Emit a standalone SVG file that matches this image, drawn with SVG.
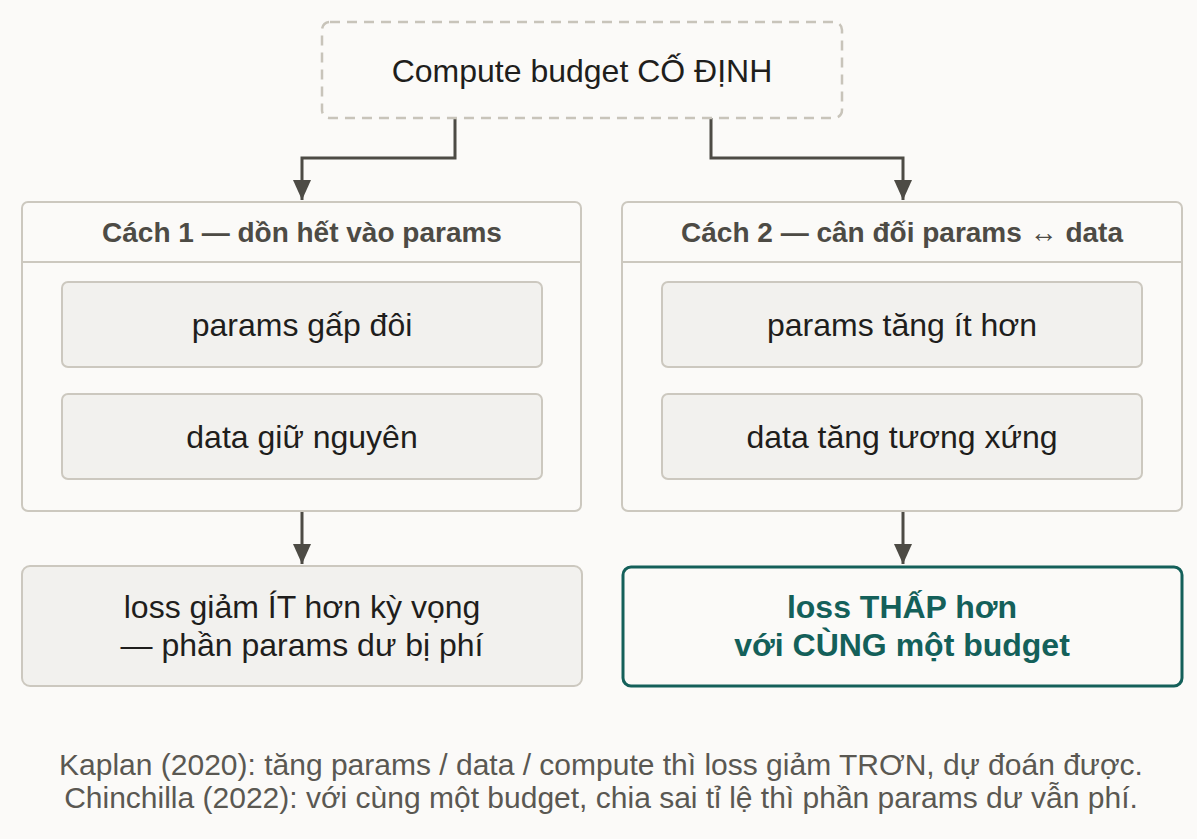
<svg xmlns="http://www.w3.org/2000/svg" width="1197" height="839" viewBox="0 0 1197 839">
<style>
text{font-family:"Liberation Sans",Arial,sans-serif;text-anchor:middle}
.t{font-size:32px;fill:#1f1e1c}
.h{font-size:28px;font-weight:bold;fill:#4d4b45}
.g{font-size:32px;font-weight:bold;fill:#14605a}
.f{font-size:30px;fill:#5a5852}
.cont{fill:#fbfaf8;stroke:#ccc8bf;stroke-width:2}
.inner{fill:#f2f1ee;stroke:#ccc8bf;stroke-width:2}
.conn{fill:none;stroke:#4d4b45;stroke-width:3}
</style>
<defs>
<marker id="a" viewBox="0 0 20 20" refX="20" refY="10" markerWidth="20" markerHeight="20" markerUnits="userSpaceOnUse" orient="auto">
<path d="M0,1 L20,10 L0,19 z" fill="#4d4b45"/>
</marker>
</defs>
<rect width="1197" height="839" fill="#fbfaf8"/>
<g id="connectors">
<path class="conn" d="M455,118 V158 H302 V200" marker-end="url(#a)"/>
<path class="conn" d="M711,118 V158 H903 V200" marker-end="url(#a)"/>
<path class="conn" d="M302,511 V564" marker-end="url(#a)"/>
<path class="conn" d="M903,511 V564" marker-end="url(#a)"/>
</g>
<g id="budget">
<rect x="322" y="22" width="520" height="96" rx="8" fill="#fbfaf8" stroke="#c8c4ba" stroke-width="2.5" stroke-dasharray="10,7"/>
<text class="t" x="582" y="82">Compute budget CỐ ĐỊNH</text>
</g>
<g id="cach1">
<rect class="cont" x="22" y="202" width="559" height="309" rx="6"/>
<line x1="22" y1="262" x2="581" y2="262" stroke="#ccc8bf" stroke-width="2"/>
<text class="h" x="302" y="242">Cách 1 — dồn hết vào params</text>
</g>
<g id="c1a">
<rect class="inner" x="62" y="282" width="480" height="85" rx="6"/>
<text class="t" x="302" y="336">params gấp đôi</text>
</g>
<g id="c1b">
<rect class="inner" x="62" y="394" width="480" height="85" rx="6"/>
<text class="t" x="302" y="448">data giữ nguyên</text>
</g>
<g id="cach2">
<rect class="cont" x="622" y="202" width="560" height="309" rx="6"/>
<line x1="622" y1="262" x2="1182" y2="262" stroke="#ccc8bf" stroke-width="2"/>
<text class="h" x="902" y="242">Cách 2 — cân đối params ↔ data</text>
</g>
<g id="c2a">
<rect class="inner" x="662" y="282" width="480" height="85" rx="6"/>
<text class="t" x="902" y="336">params tăng ít hơn</text>
</g>
<g id="c2b">
<rect class="inner" x="662" y="394" width="480" height="85" rx="6"/>
<text class="t" x="902" y="448">data tăng tương xứng</text>
</g>
<g id="res1">
<rect class="inner" x="22" y="566" width="560" height="120" rx="8"/>
<text class="t" x="302" y="618">loss giảm ÍT hơn kỳ vọng</text>
<text class="t" x="302" y="656">— phần params dư bị phí</text>
</g>
<g id="res2">
<rect x="623" y="567" width="559" height="119" rx="8" fill="#fbfaf8" stroke="#14605a" stroke-width="3"/>
<text class="g" x="902" y="618">loss THẤP hơn</text>
<text class="g" x="902" y="656">với CÙNG một budget</text>
</g>
<g id="footer">
<text class="f" x="601" y="775">Kaplan (2020): tăng params / data / compute thì loss giảm TRƠN, dự đoán được.</text>
<text class="f" x="601" y="808">Chinchilla (2022): với cùng một budget, chia sai tỉ lệ thì phần params dư vẫn phí.</text>
</g>
</svg>
